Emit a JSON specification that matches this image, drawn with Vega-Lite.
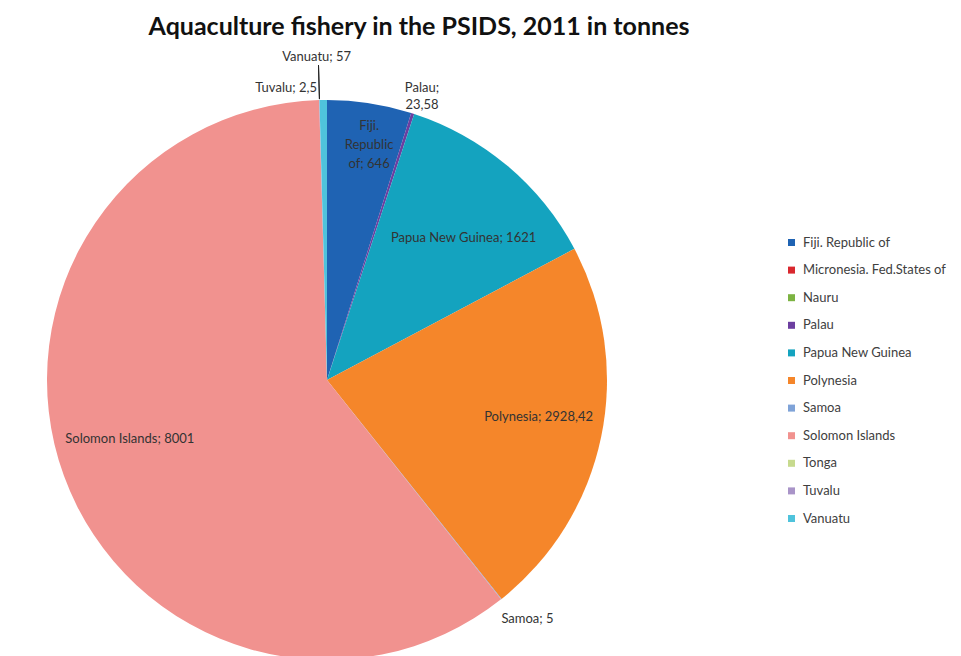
{
  "$schema": "https://vega.github.io/schema/vega-lite/v6.json",
  "autosize": {"type": "none"},
  "padding": {"left": 0, "top": 50, "right": 307, "bottom": 0},
  "width": 654,
  "height": 660,
  "background": "white",
  "title": {
    "text": "Aquaculture fishery in the PSIDS, 2011 in tonnes",
    "font": "Lato",
    "fontSize": 25,
    "fontWeight": "bold",
    "color": "#111111",
    "anchor": "middle",
    "dx": 92,
    "offset": 10
  },
  "config": {"view": {"stroke": null}},
  "data": {
    "values": [
      {"order": 1, "country": "Fiji. Republic of", "value": 646, "label": "Fiji.\nRepublic\nof; 646"},
      {"order": 2, "country": "Micronesia. Fed.States of", "value": 0, "label": ""},
      {"order": 3, "country": "Nauru", "value": 0, "label": ""},
      {"order": 4, "country": "Palau", "value": 23.58, "label": "Palau;\n23,58"},
      {"order": 5, "country": "Papua New Guinea", "value": 1621, "label": "Papua New Guinea; 1621"},
      {"order": 6, "country": "Polynesia", "value": 2928.42, "label": "Polynesia; 2928,42"},
      {"order": 7, "country": "Samoa", "value": 5, "label": "Samoa; 5"},
      {"order": 8, "country": "Solomon Islands", "value": 8001, "label": "Solomon Islands; 8001"},
      {"order": 9, "country": "Tonga", "value": 0, "label": ""},
      {"order": 10, "country": "Tuvalu", "value": 2.5, "label": "Tuvalu; 2,5"},
      {"order": 11, "country": "Vanuatu", "value": 57, "label": "Vanuatu; 57"}
    ]
  },
  "encoding": {
    "theta": {"field": "value", "type": "quantitative", "stack": true},
    "order": {"field": "order", "type": "quantitative"}
  },
  "layer": [
    {
      "mark": {"type": "arc", "radius": 280},
      "encoding": {
        "color": {
          "field": "country",
          "type": "nominal",
          "scale": {
            "domain": ["Fiji. Republic of", "Micronesia. Fed.States of", "Nauru", "Palau", "Papua New Guinea", "Polynesia", "Samoa", "Solomon Islands", "Tonga", "Tuvalu", "Vanuatu"],
            "range": ["#1F63B3", "#D9272E", "#7CB342", "#6C3FA0", "#14A3BF", "#F5862A", "#7FA3D8", "#F1928F", "#C7DA8E", "#A994C8", "#4FC3DC"]
          },
          "legend": {
            "title": null,
            "orient": "none",
            "legendX": 785,
            "legendY": 186,
            "symbolType": "square",
            "symbolSize": 49,
            "symbolStrokeWidth": 0,
            "labelFont": "Lato",
            "labelFontSize": 13,
            "labelColor": "#404040",
            "labelOffset": 5,
            "rowPadding": 13.6
          }
        }
      }
    },
    {
      "transform": [
        {"stack": "value", "groupby": [], "sort": [{"field": "order", "order": "ascending"}], "as": ["v0", "v1"]},
        {"filter": "datum.country == 'Vanuatu'"}
      ],
      "mark": {"type": "arc", "radius": 281, "radius2": 315, "stroke": "#222222", "strokeWidth": 1, "fill": null},
      "encoding": {
        "theta": {"field": "v0", "type": "quantitative"},
        "theta2": {"field": "v0"},
        "order": null
      }
    },
    {
      "mark": {"type": "text", "radius": 212, "dy": 20, "font": "Lato", "fontSize": 13, "color": "#333333"},
      "encoding": {
        "text": {"field": "label", "condition": {"test": "datum.country != 'Papua New Guinea'", "value": ""}}
      }
    },
    {
      "mark": {"type": "text", "radius": 212, "dx": 4, "dy": -6, "font": "Lato", "fontSize": 13, "color": "#333333"},
      "encoding": {
        "text": {"field": "label", "condition": {"test": "datum.country != 'Polynesia'", "value": ""}}
      }
    },
    {
      "mark": {"type": "text", "radius": 212, "dx": 2, "dy": -14, "font": "Lato", "fontSize": 13, "color": "#333333"},
      "encoding": {
        "text": {"field": "label", "condition": {"test": "datum.country != 'Solomon Islands'", "value": ""}}
      }
    },
    {
      "mark": {"type": "text", "radius": 257, "dx": 3, "font": "Lato", "fontSize": 13, "color": "#333333", "lineBreak": "\n", "lineHeight": 19},
      "encoding": {
        "text": {"field": "label", "condition": {"test": "datum.country != 'Fiji. Republic of'", "value": ""}}
      }
    },
    {
      "mark": {"type": "text", "radius": 307, "dx": 1, "font": "Lato", "fontSize": 13, "color": "#333333", "lineBreak": "\n", "lineHeight": 17},
      "encoding": {
        "text": {"field": "label", "condition": {"test": "datum.country != 'Palau'", "value": ""}}
      }
    },
    {
      "mark": {"type": "text", "radius": 292, "align": "right", "dx": -2, "font": "Lato", "fontSize": 13, "color": "#333333"},
      "encoding": {
        "text": {"field": "label", "condition": {"test": "datum.country != 'Tuvalu'", "value": ""}}
      }
    },
    {
      "mark": {"type": "text", "radius": 323, "dx": -6, "font": "Lato", "fontSize": 13, "color": "#333333"},
      "encoding": {
        "text": {"field": "label", "condition": {"test": "datum.country != 'Vanuatu'", "value": ""}}
      }
    },
    {
      "mark": {"type": "text", "radius": 306, "dx": 10, "font": "Lato", "fontSize": 13, "color": "#333333"},
      "encoding": {
        "text": {"field": "label", "condition": {"test": "datum.country != 'Samoa'", "value": ""}}
      }
    }
  ]
}
